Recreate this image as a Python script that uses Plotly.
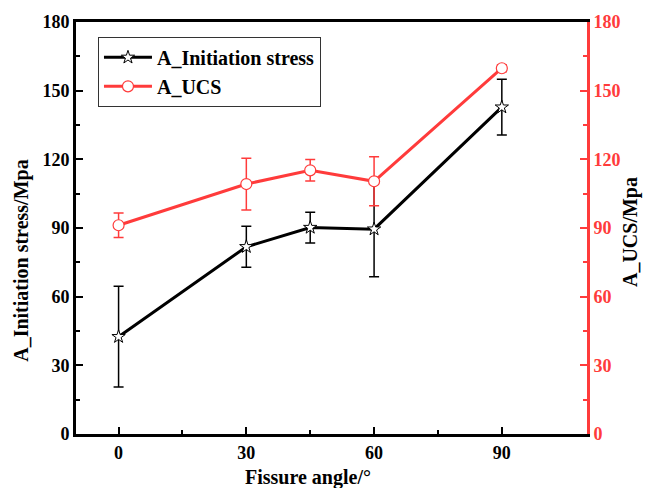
import plotly.graph_objects as go

# Fissure angle (degrees)
angles = [0, 30, 45, 60, 90]

# Initiation stress (MPa) and its scatter
init_stress = [42.5, 81.8, 90.2, 89.5, 142.8]
init_err = [22.0, 9.0, 6.7, 20.8, 12.2]

# Uniaxial compressive strength (MPa) and its scatter
ucs = [91.2, 109.2, 115.2, 110.4, 159.8]
ucs_err = [5.3, 11.3, 4.7, 10.7, 1.5]

x_ticks = [0, 30, 60, 90]
y_ticks = [0, 30, 60, 90, 120, 150, 180]

FONT = "Liberation Serif"
RED = "#ff3b3b"
BLACK = "#000000"

fig = go.Figure()

fig.add_trace(go.Scatter(
    x=angles, y=init_stress, name="A_Initiation stress",
    mode="lines+markers",
    line=dict(color=BLACK, width=3),
    marker=dict(symbol="star", size=10, color="white",
                line=dict(color=BLACK, width=1)),
    error_y=dict(type="data", array=init_err, visible=True,
                 color=BLACK, thickness=1.5, width=5),
))

fig.add_trace(go.Scatter(
    x=angles, y=ucs, name="A_UCS", yaxis="y2",
    mode="lines+markers",
    line=dict(color=RED, width=3),
    marker=dict(symbol="circle", size=11, color="white",
                line=dict(color=RED, width=1.2)),
    error_y=dict(type="data", array=ucs_err, visible=True,
                 color=RED, thickness=1.5, width=5),
))

tick_font = dict(family=FONT, size=18, color=BLACK, weight="bold")

fig.update_layout(
    width=653, height=488,
    margin=dict(l=76, r=66, t=20, b=54),
    paper_bgcolor="white", plot_bgcolor="white",
    font=dict(family=FONT, color=BLACK),
    showlegend=True,
    legend=dict(
        x=0.043, y=0.964, xanchor="left", yanchor="top",
        bordercolor="#333333", borderwidth=1, bgcolor="white",
        font=dict(family=FONT, size=20, color=BLACK, weight="bold"),
        itemwidth=48, tracegroupgap=0,
    ),
    xaxis=dict(
        range=[-10, 110], tickvals=x_ticks,
        showgrid=False, zeroline=False,
        showline=True, linecolor=BLACK, linewidth=3, mirror=True,
        ticks="inside", ticklen=7, tickwidth=2, tickcolor=BLACK,
        minor=dict(tickvals=[15, 45, 75], ticks="inside", ticklen=4,
                   tickwidth=2, tickcolor=BLACK),
        tickfont=tick_font,
    ),
    yaxis=dict(
        range=[0, 180], tickvals=y_ticks,
        showgrid=False, zeroline=False,
        showline=True, linecolor=BLACK, linewidth=3,
        ticks="inside", ticklen=7, tickwidth=2, tickcolor=BLACK,
        minor=dict(tickvals=[15, 45, 75, 105, 135, 165], ticks="inside",
                   ticklen=4, tickwidth=2, tickcolor=BLACK),
        tickfont=tick_font,
    ),
    yaxis2=dict(
        range=[0, 180], tickvals=y_ticks, overlaying="y", side="right",
        showgrid=False, zeroline=False,
        showline=True, linecolor=RED, linewidth=3,
        ticks="inside", ticklen=7, tickwidth=2, tickcolor=RED,
        minor=dict(tickvals=[15, 45, 75, 105, 135, 165], ticks="inside",
                   ticklen=4, tickwidth=2, tickcolor=RED),
        tickfont=dict(family=FONT, size=18, color=RED, weight="bold"),
    ),
    annotations=[
        dict(text="A_Initiation stress/Mpa", xref="paper", yref="paper",
             x=-0.106, y=0.42, textangle=-90, showarrow=False,
             xanchor="center", yanchor="middle",
             font=dict(family=FONT, size=20, color=BLACK, weight="bold")),
        dict(text="A_UCS/Mpa", xref="paper", yref="paper",
             x=1.084, y=0.49, textangle=-90, showarrow=False,
             xanchor="center", yanchor="middle",
             font=dict(family=FONT, size=20, color=BLACK, weight="bold")),
        dict(text="Fissure angle/°", xref="paper", yref="paper",
             x=0.454, y=-0.106, showarrow=False,
             xanchor="center", yanchor="middle",
             font=dict(family=FONT, size=20, color=BLACK, weight="bold")),
    ],
)

fig.write_html("out.html")
